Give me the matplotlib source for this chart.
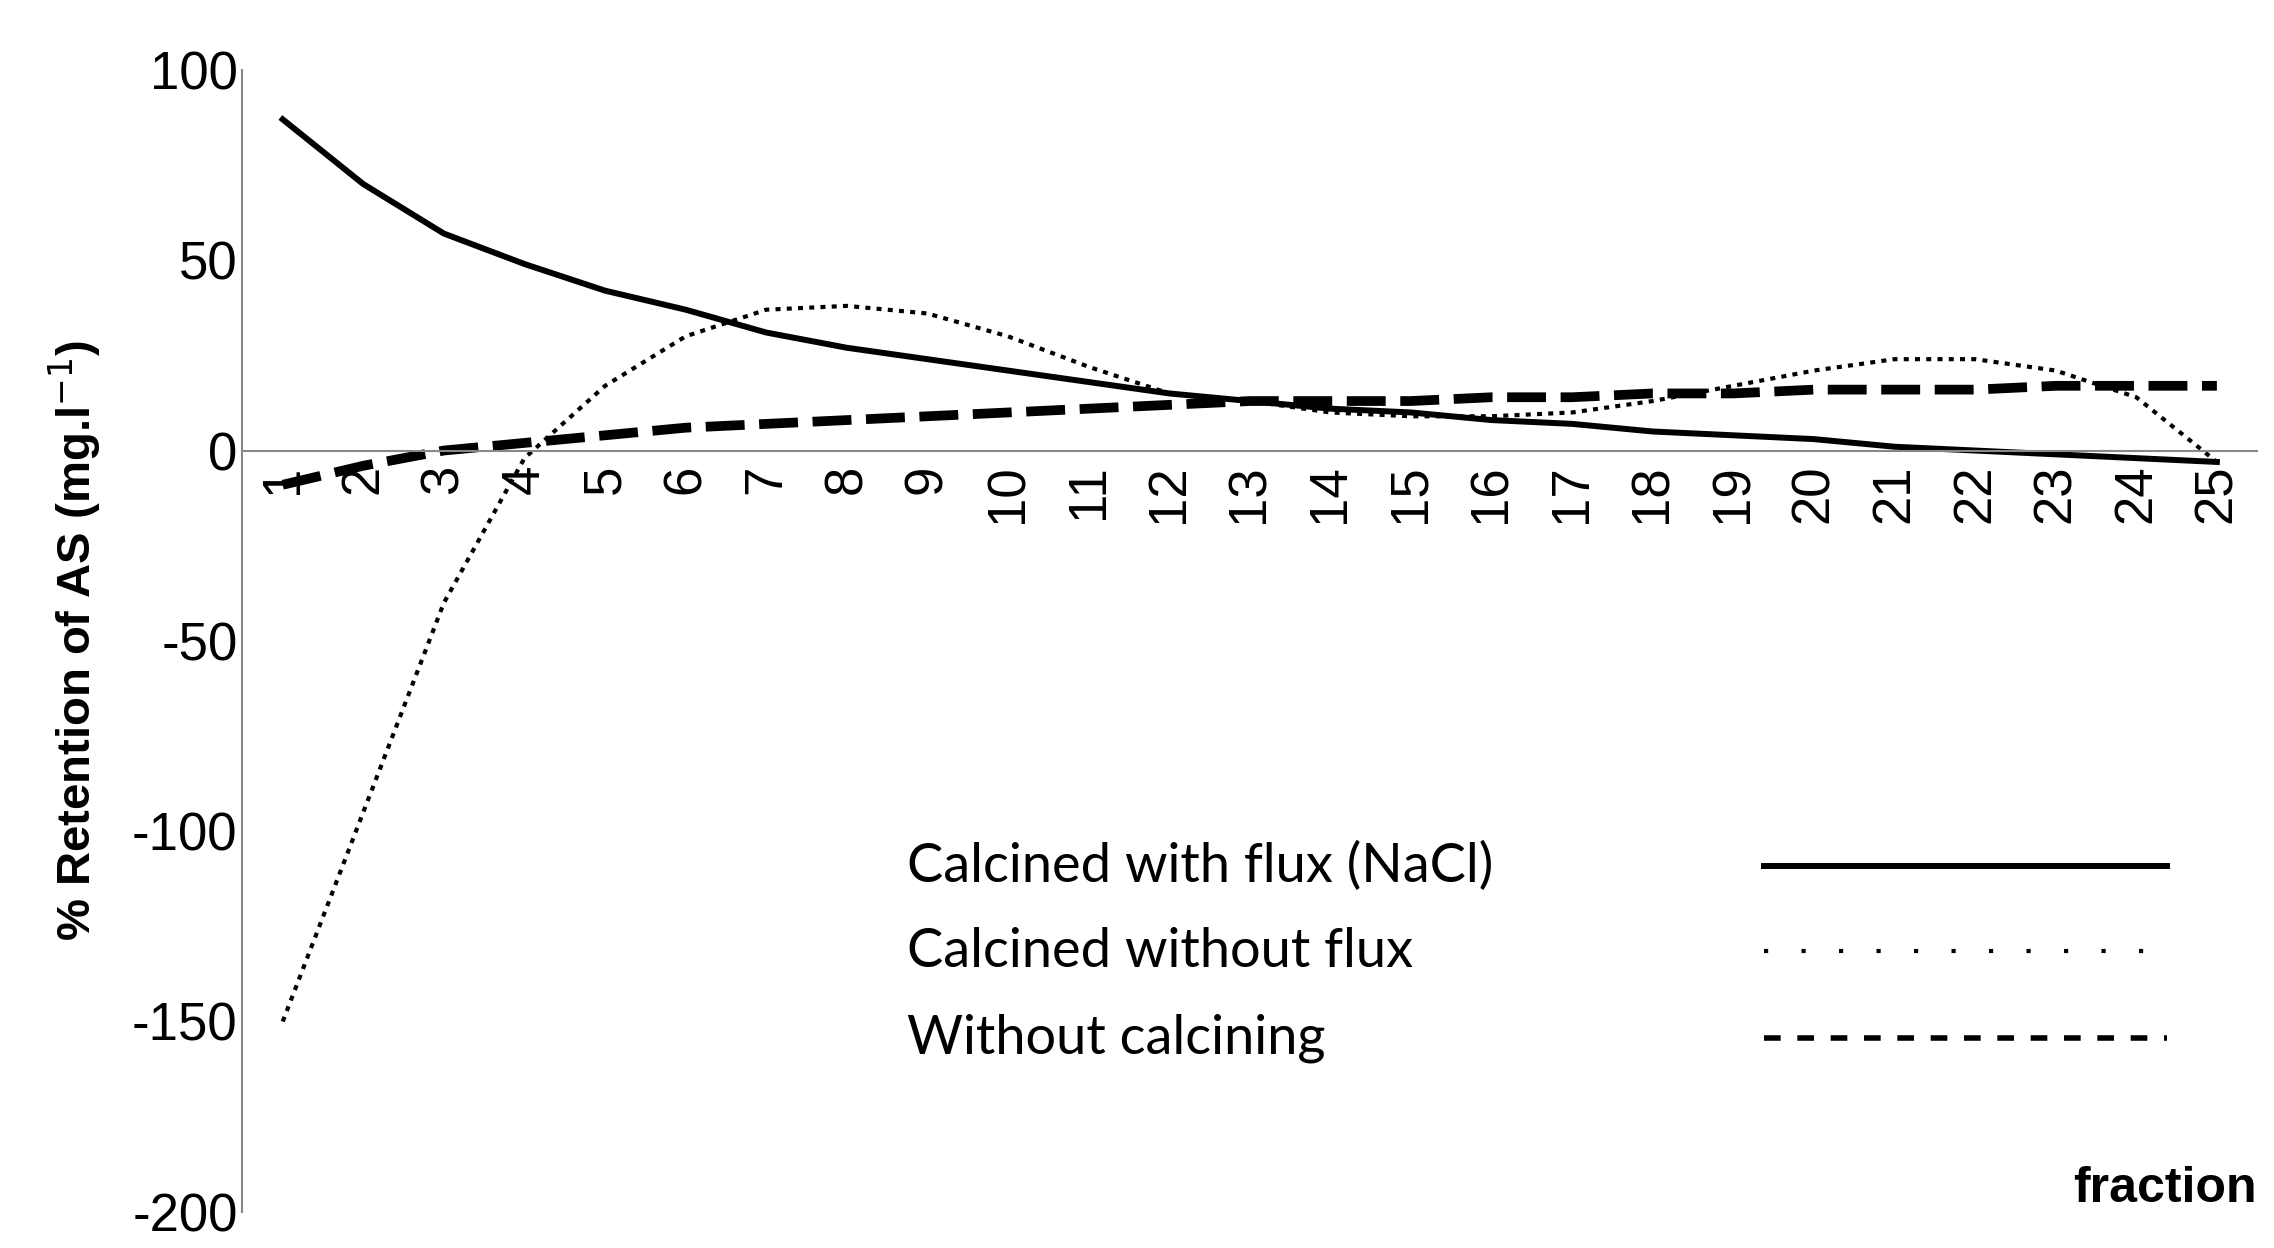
import numpy as np
import matplotlib
matplotlib.use("Agg")
import matplotlib.pyplot as plt

fractions = list(range(1, 26))
with_flux = [87, 70, 57, 49, 42, 37, 31, 27, 24, 21, 18, 15, 13, 11, 10, 8, 7, 5, 4, 3, 1, 0, -1, -2, -3]
without_flux = [-150, -95, -40, -2, 17, 30, 37, 38, 36, 30, 22, 15, 13, 10, 9, 9, 10, 13, 17, 21, 24, 24, 21, 14, -3]
no_calcining = [-9, -4, 0, 2, 4, 6, 7, 8, 9, 10, 11, 12, 13, 13, 13, 14, 14, 15, 15, 16, 16, 16, 17, 17, 17]

plt.rcParams['font.family'] = ['Liberation Sans', 'DejaVu Sans']
plt.rcParams['axes.unicode_minus'] = False

fig = plt.figure(figsize=(22.74, 12.48), dpi=100)
ax = fig.add_axes([0.1066, 0.029, 0.886, 0.915])

ax.plot(fractions, with_flux, color='black', lw=4.3)
ax.plot(fractions, without_flux, color='black', lw=3, linestyle=(0, (1.2, 1.5)))
ax.plot(fractions, no_calcining, color='black', lw=7, linestyle=(0, (4, 1.5)))

ax.set_xlim(0.5, 25.5)
ax.set_ylim(-200, 100)
ax.set_yticks([-200, -150, -100, -50, 0, 50, 100])
ax.set_xticks(fractions)
ax.set_xticklabels([str(f) for f in fractions])
ax.tick_params(axis='both', labelsize=38, length=0)
ax.tick_params(axis='x', labelrotation=90, pad=10)
ax.spines['bottom'].set_position(('data', 0))
ax.spines['top'].set_visible(False)
ax.spines['right'].set_visible(False)
for s in ('left', 'bottom'):
    ax.spines[s].set_color('#888888')
    ax.spines[s].set_linewidth(1.5)

ax.set_ylabel('% Retention of AS (mg.l$^{-1}$)', fontsize=34, fontweight='bold', labelpad=20)
ax.text(1.0, 0.0, 'fraction', transform=ax.transAxes, fontsize=36,
        fontweight='bold', ha='right', va='bottom')

# legend drawn by hand like the original
legend_names = ['Calcined with flux (NaCl)', 'Calcined without flux', 'Without calcining']
legend_styles = [dict(lw=4.3, linestyle='-'),
                 dict(lw=3, linestyle=(0, (1, 8))),
                 dict(lw=4, linestyle=(0, (3, 3)))]
ys = [0.303, 0.228, 0.152]
for name, st, y in zip(legend_names, legend_styles, ys):
    ax.text(0.33, y, name, transform=ax.transAxes, fontsize=39, family=['Lato', 'DejaVu Sans'],
            va='center', ha='left')
    ax.plot([0.755, 0.955], [y, y], transform=ax.transAxes, color='black', **st)

fig.savefig('out.png', dpi=100)
